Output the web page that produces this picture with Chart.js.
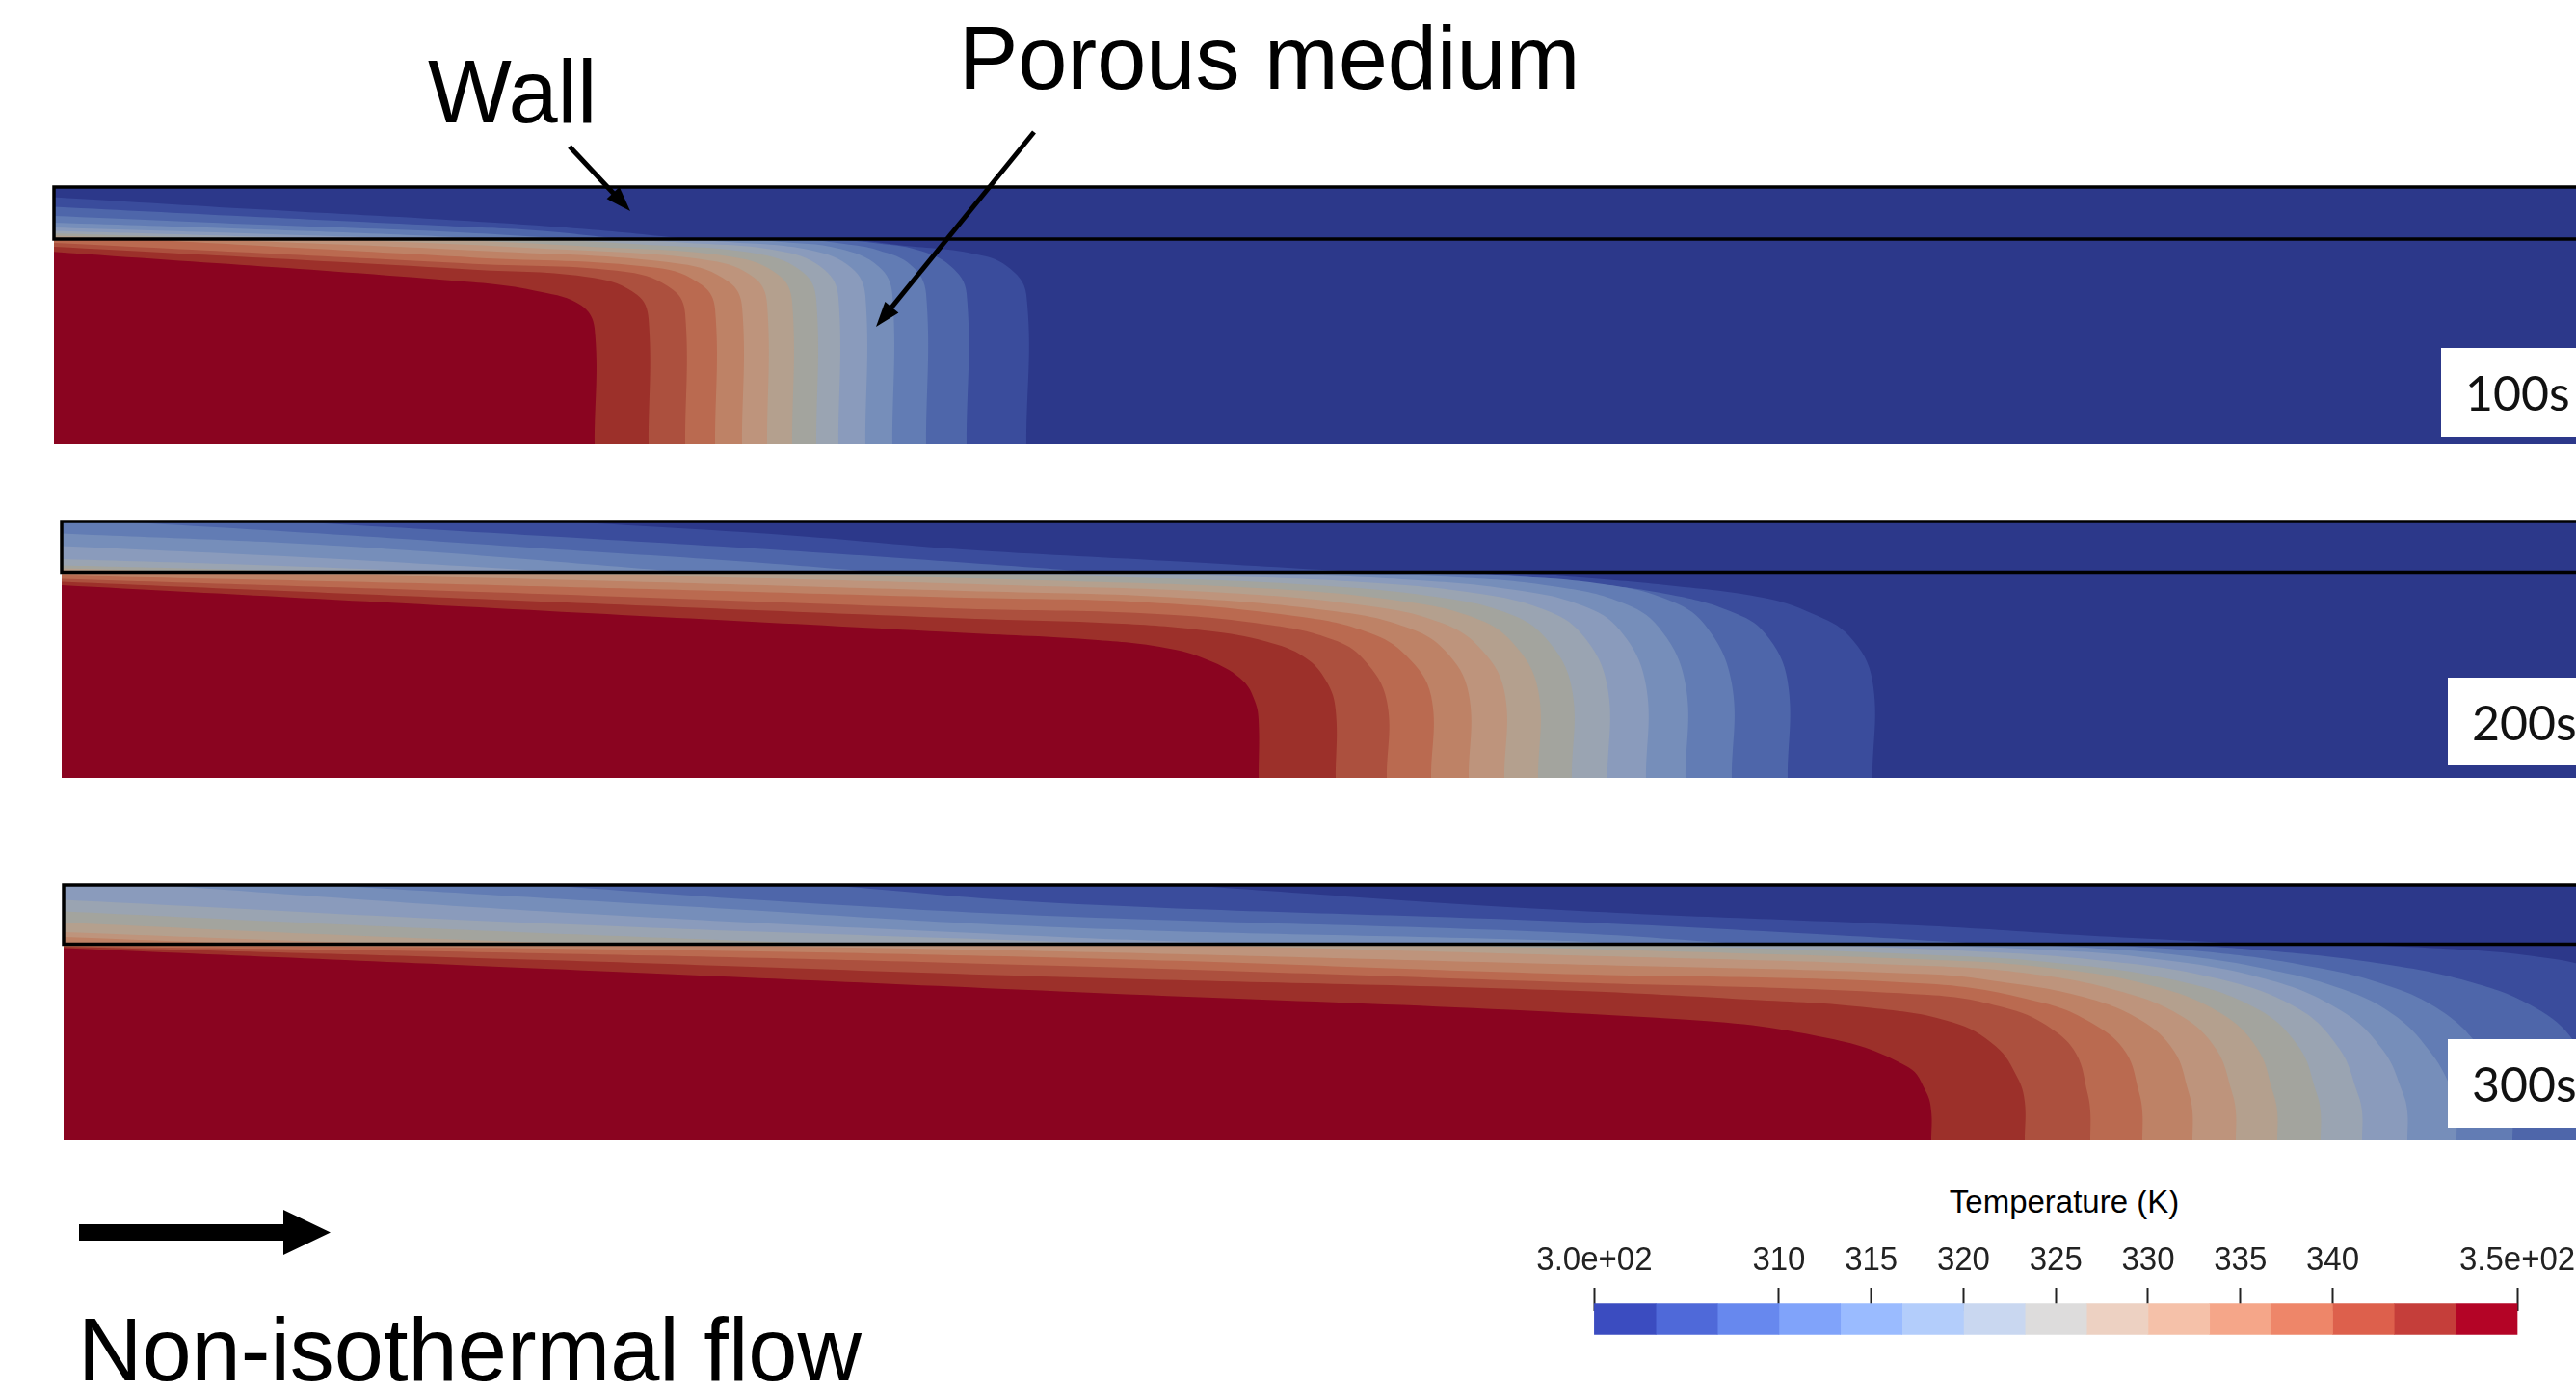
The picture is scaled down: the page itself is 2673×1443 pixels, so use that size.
<!DOCTYPE html>
<html>
<head>
<meta charset="utf-8">
<script src="https://cdn.jsdelivr.net/npm/chart.js@4.4.1/dist/chart.umd.min.js"></script>
<style>
html, body { margin: 0; padding: 0; background: #fff; width: 2673px; height: 1443px; overflow: hidden; position: relative; }
canvas, .lbl, .box, svg { position: absolute; }
.lbl { font-family: 'Liberation Sans', Arial, sans-serif; font-size: 92px; line-height: 1; color: #000; white-space: nowrap; }
.box { background: #fff; font-family: Lato, sans-serif; font-size: 50px; color: #111; display: flex; align-items: center; padding-left: 25px; box-sizing: border-box; width: 160px; }
</style>
</head>
<body>
<div class="lbl" style="left:444px;top:49px">Wall</div>
<div class="lbl" style="left:995px;top:14px">Porous medium</div>
<div class="lbl" style="left:81px;top:1354px">Non-isothermal flow</div>

<canvas id="p100" width="2623" height="273" style="left:50px;top:188px;width:2623px;height:273px"></canvas>
<canvas id="p200" width="2623" height="272" style="left:58px;top:535px;width:2623px;height:272px"></canvas>
<canvas id="p300" width="2623" height="271" style="left:60px;top:912px;width:2623px;height:271px"></canvas>

<div class="box" style="left:2533px;top:361px;height:92px">100s</div>
<div class="box" style="left:2540px;top:703px;height:91px">200s</div>
<div class="box" style="left:2540px;top:1078px;height:92px">300s</div>

<div class="lbl" style="font-size:33px;left:2142px;top:1230px;transform:translateX(-50%)">Temperature (K)</div>
<canvas id="cbar" width="1200" height="245" style="left:1560px;top:1200px;width:1200px;height:245px"></canvas>

<svg width="2673" height="1443" style="left:0;top:0">
  <line x1="591" y1="152" x2="637" y2="201" stroke="#000" stroke-width="5"/>
  <polygon points="654,219 629.6,206.3 642.8,193.9" fill="#000"/>
  <line x1="1073" y1="137" x2="925" y2="319" stroke="#000" stroke-width="5"/>
  <polygon points="909,339 918.4,313.1 932.4,324.5" fill="#000"/>
  <polygon points="82,1270 294,1270 294,1255 343,1278.5 294,1302 294,1287 82,1287" fill="#000"/>
</svg>

<script>
// x and y in mm, x from the left end of the domain, y from the bottom of the porous layer
const XMAX = 523.4;
const panelTimes = ['100s', '200s', '300s'];
const porousHeight = [42.5, 42.7, 40.7];
const wallThickness = [10.8, 10.5, 12.3];

// isotherms in the porous medium, hottest first (boundary after band 1, band 2, ...)
const porous100 = [
    [[112.2,0],[112.2,24],[109.4,28.8],[101,31.6],[87,33.6],[0,39.9]],
    [[123.4,0],[123.4,26],[121,31],[112,34.5],[87,36.2],[0,40.9]],
    [[131,0],[131,27],[128.5,32],[119,35.7],[87,37.4],[0,41.7]],
    [[137.2,0],[137.2,28],[134.5,33],[125,36.6],[87,38.7],[17,42.5]],
    [[142.8,0],[142.8,28.5],[140,33.7],[130,37.4],[90,40],[31,42.5]],
    [[148,0],[148,29],[145.5,34.4],[136,38.1],[100,40.6],[59,42.5]],
    [[153.2,0],[153.2,29.5],[150.5,35],[141,38.8],[110,41],[80,42.5]],
    [[158.2,0],[158.2,30],[155.5,35.6],[146.5,39.4],[120,41.5],[101,42.5]],
    [[162.8,0],[162.8,30.4],[160,36.1],[151.5,39.9],[130,41.8],[113,42.5]],
    [[168.4,0],[168.4,30.7],[165.6,36.5],[157,40.2],[140,41.9],[129,42.5]],
    [[174,0],[174,31],[171.2,36.8],[163,40.5],[150,42],[143,42.5]],
    [[181,0],[181,31.2],[178,37],[171,40.2],[164,41.5],[156,42.5]],
    [[189.4,0],[189.4,31.3],[186,37],[179,40.3],[171,41.6],[162,42.5]],
    [[201.8,0],[201.8,31],[197.8,36.9],[190.8,39.5],[175,41.3],[166,42.5]]
];
const wall100 = [null, null, null, null, null, null,
    [[0,43.2],[25,42.5]],
    [[0,43.7],[20,43.1],[42,42.5]],
    [[0,44.2],[25,43.5],[58,42.5]],
    [[0,44.9],[30,44.0],[55,43.2],[75,42.5]],
    [[0,45.9],[40,44.6],[70,43.5],[92,42.5]],
    [[0,47.3],[40,45.6],[80,44.1],[108,42.5]],
    [[0,49.2],[40,47.2],[80,45.3],[100,44.3],[118,42.5]],
    [[0,51.2],[40,48.8],[80,46.6],[110,44.6],[132,42.5]]
];

const porous200 = [
    [[248.4,0],[248.4,12],[247.6,16],[245.2,20.1],[239,24],[230,26.8],[215,28.6],[187.2,30.1],[90,35.2],[0,40.0]],
    [[264.4,0],[264.4,14],[262.5,20],[258,25],[250,28.3],[238,30.5],[220,32],[187.2,33.1],[90,37],[0,40.7]],
    [[275,0],[275,16],[270.1,24.7],[263.8,28.7],[251,31.7],[225.5,34.1],[187.2,35.1],[90,38.5],[0,41.3]],
    [[284.2,0],[284.2,17],[279,25.4],[271.4,30.1],[257.4,33.4],[225.5,36.4],[187.2,37.4],[90,40],[0,42.0]],
    [[292,0],[292,17.5],[287,26.5],[279,31.3],[264,34.6],[230,37.5],[187.2,38.8],[100,41.2],[30,42.7]],
    [[299.4,0],[299.4,18],[294,27.3],[286,32.3],[271,35.7],[240,38.5],[200,39.9],[120,42],[70,42.7]],
    [[306.4,0],[306.4,18.3],[301,28.2],[293,33.3],[278,36.7],[250,39.3],[210,40.8],[150,42.3],[120,42.7]],
    [[313.4,0],[313.4,18.6],[308,29],[300,34.2],[285,37.6],[260,40],[225,41.5],[180,42.7]],
    [[320.8,0],[320.8,18.9],[315.5,29.8],[307.5,35],[293,38.4],[270,40.6],[240,41.9],[205,42.7]],
    [[328.8,0],[328.8,19.2],[323.5,30.5],[315.5,35.8],[301,39.1],[280,41.1],[255,42.2],[230,42.7]],
    [[337,0],[337,19.4],[331.5,31.2],[323.5,36.5],[310,39.7],[290,41.6],[255,42.7]],
    [[346.6,0],[346.6,19.6],[341,31.8],[333,37.1],[320,40.2],[300,41.9],[272,42.7]],
    [[358.2,0],[358.2,20],[353.5,30],[346.5,34.5],[334,38],[315,40.6],[292,42.7]],
    [[375.8,0],[375.8,20.1],[371,29.4],[363.3,34.1],[353.1,37.4],[334,39.9],[315,41.6],[300,42.7]]
];
const wall200 = [null, null, null, null, null,
    [[0,43.1],[12,42.7]],
    [[0,43.5],[30,42.7]],
    [[0,44.1],[25,43.5],[55,42.7]],
    [[0,45.4],[40,44.2],[80,42.7]],
    [[0,48.1],[50,45.8],[105,42.7]],
    [[0,50.7],[60,48],[130,42.7]],
    [[11.4,53.2],[60,50.3],[100,47.6],[140,45],[170,42.7]],
    [[47,53.2],[100,50.2],[150,47.2],[187,44.7],[215,42.7]],
    [[104.6,53.2],[150,50.4],[187,47.4],[230,45],[270,42.7]]
];

const porous300 = [
    [[387.6,0],[387.6,6],[386.6,9.9],[382.8,15.2],[366.2,21.2],[334.4,25.2],[206.8,30.9],[100,35.6],[0,39.9]],
    [[407,0],[407,8],[405.5,13],[401,19.5],[392,24.5],[375,27.5],[350,29.2],[308.8,31.2],[206.8,33.9],[100,37.4],[0,40.2]],
    [[420.6,0],[420.6,6],[420,9.9],[417.7,17.9],[412.5,23.2],[404,27.2],[386.8,30.2],[308.8,32.9],[206.8,36.2],[100,38.8],[0,40.3]],
    [[431.4,0],[431.4,6],[430.7,10],[428,18.2],[421.5,24],[410.5,28.6],[386.8,32.5],[308.8,34.6],[206.8,37.9],[100,39.8],[0,40.5]],
    [[441.8,0],[441.8,6],[441,10],[438,18.5],[431,25],[419,29.8],[402,32.9],[386.8,34.5],[308.8,36.6],[206.8,39.2],[120,40.7]],
    [[450.8,0],[450.8,6],[450,10],[446.8,18.8],[439.5,25.8],[426.5,31],[408,34.6],[386.8,36.2],[308.8,38.5],[230,40.7]],
    [[459.4,0],[459.4,6],[458.5,10],[455.3,19],[447.5,26.5],[433,32.2],[412,35.8],[386.8,37.5],[320,39.6],[280,40.7]],
    [[468.4,0],[468.4,6],[467.5,10],[464,19.2],[455.4,27.2],[438.3,33.2],[412.5,36.9],[386.8,38.5],[340,40.2],[320,40.7]],
    [[477,0],[477,6],[476,10],[472.3,19],[463.5,27.5],[446,33.8],[420,37.6],[395,39.3],[360,40.7]],
    [[486.4,0],[486.4,6],[485.4,10],[481.5,18.5],[473,26.7],[457,33.5],[432,37.9],[410,39.6],[380,40.7]],
    [[496.6,0],[496.6,6],[495.8,10],[491.5,17.9],[483.8,25.9],[472.6,31.5],[455.4,35.9],[438.3,38.5],[421.1,39.9],[405,40.7]],
    [[508.2,0],[508.2,6],[506.9,11],[502.6,17.9],[494,26.5],[481.2,32.5],[464,36.5],[446.9,38.9],[429.7,40.2],[418,40.7]],
    [[526.8,0],[526.8,5],[525.5,10],[521,20.5],[513,27.5],[499,33],[480,36.8],[458,39.3],[440,40.5],[432,40.7]],
    [[544.8,0],[544.8,10],[543,20],[537,29],[527,35],[512,38.3],[490,40],[470,40.7]]
];
const wall300 = [null, null, null, null,
    [[0,42.2],[40,40.7]],
    [[0,43.2],[40,41.7],[70,40.7]],
    [[0,45.2],[60,42.5],[110,40.7]],
    [[0,47.5],[80,43.8],[160,40.7]],
    [[0,49.9],[100,45],[206.8,41.2],[225,40.7]],
    [[19.1,53],[100,47.5],[206.8,42.2],[250,40.7]],
    [[54.1,53],[130,48.5],[206.8,44.2],[308.9,41.5],[325,40.7]],
    [[99,53],[150,49.5],[206.8,46.5],[308.9,43.2],[350,40.7]],
    [[158,53],[206.8,49.2],[308.9,45.5],[360,43],[400,40.7]],
    [[232,53],[308.9,47.9],[386.8,44.5],[420,42.5],[455,40.7]]
];

// shaded field colours, hottest band first (last one is the cold background)
const bandColors = ['#8a0420', '#9c302a', '#ac503e', '#ba6a50', '#be8266', '#be947c', '#b4a08e', '#a3a49e',
    '#9aa4b2', '#8a9bbc', '#768eba', '#627cb4', '#4e66aa', '#3a4c9c', '#2c388a'];

// colour bar
const colorbarEdges = [300, 303.33, 306.67, 310, 313.33, 316.67, 320, 323.33, 326.67, 330, 333.33, 336.67, 340, 343.33, 346.67, 350];
const colorbarTicks = [300, 310, 315, 320, 325, 330, 335, 340, 350];
const colorbarColors = ['#3b4cc0', '#4f69d9', '#6788ee', '#80a3fa', '#9abbff', '#b3cdfb', '#c9d7f0', '#dddcdc',
    '#edd1c2', '#f5c1a9', '#f5a689', '#ee8669', '#dd604c', '#c53e3a', '#b40426'];

Chart.defaults.font.family = "'Liberation Sans', Arial, sans-serif";

function pt(p) {
    return {x: p[0], y: p[1]};
}

// region hotter than the isotherm: bottom-left corner, along the curve, back along the top or left edge
function porousShape(iso, h) {
    let d = [{x: 0, y: 0}, pt(iso[0])];
    iso.forEach(p => d.push(pt(p)));
    let end = iso[iso.length - 1];
    d.push(pt(end));
    if (end[0] > 0) {
        d.push({x: 0, y: h}, {x: 0, y: h});
    }
    return d;
}

function wallShape(iso, h, top) {
    let d = [{x: 0, y: h}];
    let start = iso[0];
    if (start[0] > 0) {
        d.push({x: 0, y: top}, {x: 0, y: top});
    }
    d.push(pt(start));
    iso.forEach(p => d.push(pt(p)));
    d.push(pt(iso[iso.length - 1]));
    return d;
}

function drawPanel(id, porous, wall, h, w) {
    let top = h + w;
    let datasets = [];

    datasets.push({
        data: [{x: XMAX + 10, y: h}, {x: 0, y: h}, {x: 0, y: top}, {x: XMAX + 10, y: top}],
        borderColor: '#000', borderWidth: 3.5, borderJoinStyle: 'miter',
        fill: false, tension: 0, clip: false, order: 0
    });
    porous.forEach((line, i) => {
        datasets.push({
            data: porousShape(line, h), backgroundColor: bandColors[i],
            fill: 'shape', borderWidth: 0, tension: 0.4, order: i + 1
        });
    });
    wall.forEach((line, i) => {
        if (!line) return;
        datasets.push({
            data: wallShape(line, h, top), backgroundColor: bandColors[i],
            fill: 'shape', borderWidth: 0, tension: 0.4, order: i + 1
        });
    });
    datasets.push({
        data: [{x: 0, y: 0}, {x: XMAX + 10, y: 0}, {x: XMAX + 10, y: top}, {x: 0, y: top}],
        backgroundColor: bandColors[14], fill: 'shape', borderWidth: 0, tension: 0, order: 50
    });

    new Chart(document.getElementById(id), {
        type: 'scatter',
        data: {datasets: datasets},
        options: {
            responsive: false,
            animation: false,
            devicePixelRatio: 1,
            events: [],
            showLine: true,
            elements: {point: {radius: 0}},
            layout: {padding: {left: 6, top: 6, right: 0, bottom: 0}},
            plugins: {legend: {display: false}, tooltip: {enabled: false}},
            scales: {
                x: {type: 'linear', min: 0, max: XMAX, display: false},
                y: {type: 'linear', min: 0, max: top, display: false}
            }
        }
    });
}

drawPanel('p100', porous100, wall100, porousHeight[0], wallThickness[0]);
drawPanel('p200', porous200, wall200, porousHeight[1], wallThickness[1]);
drawPanel('p300', porous300, wall300, porousHeight[2], wallThickness[2]);

// bar sits in the first of five rows so the chart area can be tall enough for the top axis
new Chart(document.getElementById('cbar'), {
    type: 'bar',
    data: {
        labels: ['T', '', '', '', ''],
        datasets: colorbarColors.map((c, i) => ({
            data: [[colorbarEdges[i], colorbarEdges[i + 1]]],
            backgroundColor: c, barThickness: 32, grouped: false, clip: false, borderWidth: 0
        }))
    },
    options: {
        indexAxis: 'y',
        responsive: false,
        animation: false,
        devicePixelRatio: 1,
        events: [],
        layout: {padding: {left: 94.4, right: 148, top: 80.4, bottom: 0}},
        plugins: {legend: {display: false}, tooltip: {enabled: false}},
        scales: {
            x: {
                type: 'linear', position: 'top', min: 300, max: 350, z: 1,
                afterBuildTicks: axis => { axis.ticks = colorbarTicks.map(v => ({value: v})); },
                ticks: {
                    autoSkip: false, maxRotation: 0, padding: 8, color: '#222',
                    font: {size: 33},
                    callback: v => (v === 300 || v === 350) ? (v / 100).toFixed(1) + 'e+02' : String(v)
                },
                grid: {drawOnChartArea: false, drawTicks: true, tickLength: 24, tickWidth: 2, tickColor: '#222'},
                border: {display: false}
            },
            y: {display: false}
        }
    }
});
</script>
</body>
</html>
